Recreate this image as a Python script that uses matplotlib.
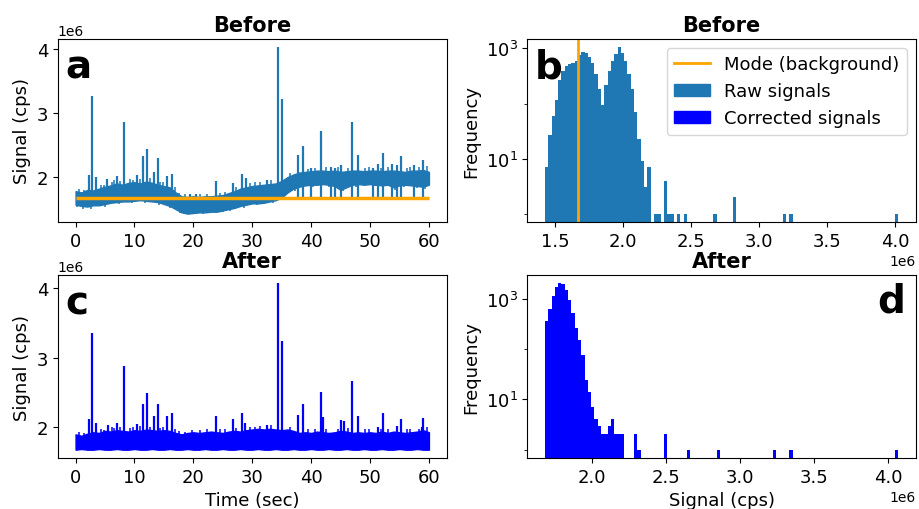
import numpy as np
import matplotlib
matplotlib.use('Agg')
from matplotlib import pyplot as plt
from matplotlib.lines import Line2D
from matplotlib.patches import Patch
from matplotlib.ticker import FixedLocator, NullFormatter

# time axis (one envelope value per second)
time_s = np.arange(0, 61)

# raw signal band (lower / upper edge of the dense trace), x1e6 cps
raw_hi = [1.78, 1.76, 1.80, 1.79, 1.82, 1.85, 1.87, 1.90, 1.88, 1.91,
          1.92, 1.90, 1.93, 1.91, 1.88, 1.86, 1.84, 1.76, 1.70, 1.69,
          1.70, 1.69, 1.70, 1.70, 1.71, 1.72, 1.75, 1.78, 1.82, 1.84,
          1.86, 1.87, 1.88, 1.89, 1.90, 1.94, 2.00, 2.04, 2.07, 2.08,
          2.09, 2.10, 2.10, 2.09, 2.10, 2.08, 2.09, 2.10, 2.10, 2.09,
          2.10, 2.10, 2.09, 2.10, 2.10, 2.09, 2.08, 2.10, 2.10, 2.11, 2.08]
raw_lo = [1.57, 1.55, 1.54, 1.56, 1.56, 1.58, 1.60, 1.61, 1.62, 1.62,
          1.63, 1.64, 1.63, 1.62, 1.61, 1.58, 1.55, 1.50, 1.45, 1.43,
          1.44, 1.45, 1.45, 1.46, 1.46, 1.48, 1.50, 1.52, 1.55, 1.57,
          1.59, 1.59, 1.60, 1.62, 1.64, 1.68, 1.76, 1.82, 1.85, 1.87,
          1.88, 1.88, 1.89, 1.88, 1.86, 1.80, 1.84, 1.88, 1.89, 1.88,
          1.89, 1.88, 1.87, 1.88, 1.84, 1.87, 1.88, 1.87, 1.86, 1.85, 1.88]
# large spikes
raw_spike_t = [2.25, 2.76, 3.4, 5.4, 7.0, 8.15, 10.4, 11.5, 12.05, 13.3,
               13.95, 15.5, 16.3, 19.5, 20.5, 23.85, 26.7, 28.2, 29.0, 32.5,
               34.4, 35.05, 37.8, 38.7, 40.0, 41.7, 43.4, 44.0, 45.1, 47.0,
               48.0, 50.5, 51.3, 52.25, 53.8, 54.5, 55.3, 57.5, 59.05]
raw_spike_v = [2.03, 3.26, 2.00, 1.97, 2.02, 2.86, 2.03, 2.33, 2.44, 2.08,
               2.29, 2.02, 2.04, 1.74, 1.74, 1.94, 1.91, 2.04, 1.98, 1.96,
               4.02, 3.21, 2.34, 2.48, 2.14, 2.71, 2.16, 2.14, 2.19, 2.86,
               2.35, 2.14, 2.21, 2.38, 2.20, 2.18, 2.33, 2.18, 2.26]
# small excursions above / below the band
raw_up_t = [0.6, 1.5, 4.3, 4.8, 6.2, 6.6, 7.6, 9.2, 9.7, 10.9,
            12.6, 14.4, 14.9, 16.8, 17.6, 18.6, 21.2, 22.3, 24.6, 25.4,
            27.3, 29.6, 30.5, 31.3, 33.2, 36.4, 39.4, 40.7, 42.6, 44.6,
            46.3, 49.2, 49.8, 51.9, 53.1, 56.2, 56.8, 58.3, 59.6]
raw_up_v = [1.81, 1.80, 1.88, 1.87, 1.93, 1.95, 1.94, 1.97, 1.96, 1.97,
            1.98, 1.93, 1.92, 1.84, 1.75, 1.73, 1.73, 1.74, 1.75, 1.77,
            1.84, 1.90, 1.92, 1.93, 1.95, 2.06, 2.13, 2.14, 2.15, 2.15,
            2.14, 2.14, 2.16, 2.14, 2.15, 2.14, 2.15, 2.15, 2.17]
raw_dn_t = [0.3, 1.2, 2.6, 5.0, 7.3, 9.5, 11.8, 14.2, 16.0, 17.8,
            18.9, 20.2, 21.7, 23.0, 25.0, 26.2, 28.6, 30.8, 33.6, 37.2,
            40.3, 43.0, 45.4, 47.7, 50.8, 54.2, 55.8, 58.0, 59.4]
raw_dn_v = [1.53, 1.51, 1.51, 1.54, 1.58, 1.59, 1.60, 1.57, 1.52, 1.44,
            1.43, 1.43, 1.43, 1.44, 1.45, 1.47, 1.52, 1.56, 1.60, 1.79,
            1.85, 1.85, 1.78, 1.85, 1.86, 1.80, 1.84, 1.83, 1.82]

# corrected signal band
cor_hi = [1.90, 1.88, 1.91, 1.93, 1.92, 1.95, 1.94, 1.96, 1.95, 1.94,
          1.96, 1.95, 1.97, 1.96, 1.95, 1.96, 1.95, 1.92, 1.90, 1.92,
          1.93, 1.92, 1.93, 1.94, 1.93, 1.92, 1.94, 1.95, 1.94, 1.96,
          1.97, 1.98, 1.97, 1.98, 1.97, 1.96, 1.97, 1.95, 1.92, 1.93,
          1.92, 1.94, 1.93, 1.92, 1.93, 1.95, 1.94, 1.92, 1.93, 1.92,
          1.93, 1.92, 1.94, 1.92, 1.94, 1.93, 1.92, 1.93, 1.94, 1.96, 1.93]
cor_lo = [1.68, 1.69, 1.68, 1.68, 1.69, 1.68, 1.68, 1.69, 1.68, 1.68,
          1.69, 1.68, 1.68, 1.69, 1.68, 1.68, 1.69, 1.68, 1.68, 1.69,
          1.68, 1.68, 1.69, 1.68, 1.68, 1.69, 1.68, 1.68, 1.69, 1.68,
          1.68, 1.69, 1.68, 1.68, 1.69, 1.68, 1.68, 1.69, 1.68, 1.68,
          1.69, 1.68, 1.68, 1.69, 1.68, 1.68, 1.69, 1.68, 1.68, 1.69,
          1.68, 1.68, 1.69, 1.68, 1.68, 1.69, 1.68, 1.68, 1.69, 1.68, 1.68]
cor_spike_t = [2.3, 2.76, 3.4, 5.5, 7.0, 8.15, 10.4, 11.5, 12.05, 13.3,
               13.95, 15.5, 16.3, 23.9, 26.7, 28.2, 28.8, 32.5, 34.4, 35.05,
               37.8, 38.7, 41.7, 42.0, 45.1, 45.5, 47.0, 48.0, 51.3, 52.25,
               54.5, 55.3, 58.8, 59.05]
cor_spike_v = [2.12, 3.36, 2.07, 2.03, 2.07, 2.88, 2.05, 2.34, 2.50, 2.16,
               2.33, 2.16, 2.20, 2.16, 2.12, 2.20, 2.07, 2.03, 4.07, 3.24,
               2.18, 2.33, 2.51, 2.15, 2.10, 2.09, 2.66, 2.16, 2.01, 2.20,
               2.02, 2.12, 2.00, 2.14]
cor_up_t = [0.6, 1.5, 4.3, 4.8, 6.2, 6.6, 7.6, 9.2, 9.7, 10.9,
            12.6, 14.4, 14.9, 16.8, 17.6, 18.6, 19.8, 21.2, 22.3, 24.6,
            25.4, 27.3, 29.6, 30.5, 31.3, 33.2, 36.4, 39.4, 40.7, 42.6,
            44.6, 46.3, 49.2, 49.8, 51.9, 53.1, 56.2, 56.8, 58.3, 59.6]
cor_up_v = [1.93, 1.92, 1.97, 1.96, 2.00, 1.99, 2.01, 1.99, 2.00, 2.02,
            2.01, 1.99, 2.00, 1.98, 1.95, 1.94, 1.96, 1.96, 1.97, 1.98,
            1.97, 1.99, 2.00, 2.01, 2.02, 2.03, 2.01, 1.97, 1.98, 1.98,
            1.97, 1.99, 1.97, 1.98, 1.98, 1.97, 1.97, 1.98, 1.98, 2.00]

mode_value = 1.668e6

# histogram counts (107 bins each)
raw_bin_lo, raw_bin_hi = 1.427e6, 4.022e6
raw_counts = [7, 27, 59, 118, 264, 390, 480, 516, 548, 585,
              760, 870, 835, 690, 548, 340, 181, 95, 220, 390,
              585, 800, 1040, 835, 585, 340, 181, 71, 23, 9,
              3, 7] + [0] * 75
raw_tail = {33: 1, 34: 1, 36: 4, 37: 1, 38: 1, 40: 1, 42: 1,
            51: 1, 57: 2, 72: 1, 74: 1, 106: 1}
cor_bin_lo, cor_bin_hi = 1.68e6, 4.07e6
cor_counts = [363, 630, 1150, 1770, 2050, 1980, 1510, 960, 525, 260,
              151, 76, 24, 14, 7, 4, 3, 2, 2, 3,
              4, 2, 2, 2] + [0] * 83
cor_tail = {27: 2, 28: 1, 36: 2, 43: 1, 52: 1, 69: 1, 74: 1, 106: 1}

for k, v in raw_tail.items():
    raw_counts[k] = v
for k, v in cor_tail.items():
    cor_counts[k] = v

sc = 1e6
fig, axes = plt.subplots(2, 2, figsize=(9.19, 5.10), dpi=100)
plt.subplots_adjust(left=0.063, right=0.9967, top=0.9216, bottom=0.10,
                    wspace=0.2075, hspace=0.29)

lab_fs = 13
tick_fs = 13
letter_fs = 28


def draw_trace(ax, lo, hi, sp_t, sp_v, sp_base, up_t, up_v, dn_t, dn_v, col):
    lo = np.array(lo) * sc
    hi = np.array(hi) * sc
    ax.fill_between(time_s, lo, hi, color=col, lw=1)
    ax.vlines(sp_t, sp_base, np.array(sp_v) * sc, color=col, lw=1.6)
    ax.vlines(up_t, np.interp(up_t, time_s, hi) - 0.03 * sc,
              np.array(up_v) * sc, color=col, lw=1.1)
    if dn_t:
        ax.vlines(dn_t, np.array(dn_v) * sc,
                  np.interp(dn_t, time_s, lo) + 0.03 * sc, color=col, lw=1.1)


def log_ticks(ax):
    ax.yaxis.set_major_locator(FixedLocator([1e1, 1e3]))
    ax.yaxis.set_minor_locator(FixedLocator([1e0, 1e2]))
    ax.yaxis.set_minor_formatter(NullFormatter())


# a: raw trace
ax = axes[0, 0]
draw_trace(ax, raw_lo, raw_hi, raw_spike_t, raw_spike_v, mode_value,
           raw_up_t, raw_up_v, raw_dn_t, raw_dn_v, 'C0')
ax.hlines(mode_value, time_s[0], time_s[-1], color='orange', lw=2.5, zorder=3)
ax.set_title('Before', fontweight='bold', fontsize=15)
ax.set_ylabel('Signal (cps)', fontsize=lab_fs)
ax.text(0.02, 0.955, 'a', transform=ax.transAxes, fontsize=letter_fs,
        fontweight='bold', va='top', ha='left')

# b: raw histogram
ax = axes[0, 1]
edges = np.linspace(raw_bin_lo, raw_bin_hi, len(raw_counts) + 1)
ax.hist(edges[:-1], bins=edges, weights=raw_counts, color='C0', log=True,
        histtype='stepfilled', lw=0)
ax.axvline(mode_value, color='orange', lw=2)
ax.set_ylim(0.71, 1480)
log_ticks(ax)
ax.set_title('Before', fontweight='bold', fontsize=15)
ax.set_ylabel('Frequency', fontsize=lab_fs)
ax.text(0.02, 0.955, 'b', transform=ax.transAxes, fontsize=letter_fs,
        fontweight='bold', va='top', ha='left')
handles = [Line2D([], [], color='orange', lw=2),
           Patch(color='C0'), Patch(color='blue')]
ax.legend(handles, ['Mode (background)', 'Raw signals', 'Corrected signals'],
          loc='upper right', fontsize=13)

# c: corrected trace
ax = axes[1, 0]
draw_trace(ax, cor_lo, cor_hi, cor_spike_t, cor_spike_v, 1.8e6,
           cor_up_t, cor_up_v, [], [], 'blue')
ax.set_title('After', fontweight='bold', fontsize=15)
ax.set_ylabel('Signal (cps)', fontsize=lab_fs)
ax.set_xlabel('Time (sec)', fontsize=lab_fs)
ax.text(0.02, 0.955, 'c', transform=ax.transAxes, fontsize=letter_fs,
        fontweight='bold', va='top', ha='left')

# d: corrected histogram
ax = axes[1, 1]
edges = np.linspace(cor_bin_lo, cor_bin_hi, len(cor_counts) + 1)
ax.hist(edges[:-1], bins=edges, weights=cor_counts, color='blue', log=True,
        histtype='stepfilled', lw=0)
ax.set_ylim(0.68, 3020)
log_ticks(ax)
ax.set_title('After', fontweight='bold', fontsize=15)
ax.set_ylabel('Frequency', fontsize=lab_fs)
ax.set_xlabel('Signal (cps)', fontsize=lab_fs)
ax.text(0.972, 0.965, 'd', transform=ax.transAxes, fontsize=letter_fs,
        fontweight='bold', va='top', ha='right')

for ax in axes.flat:
    ax.tick_params(labelsize=tick_fs)
for ax in axes[:, 0]:
    ax.set_xticks([0, 10, 20, 30, 40, 50, 60])

fig.savefig('out.png', dpi=100)
